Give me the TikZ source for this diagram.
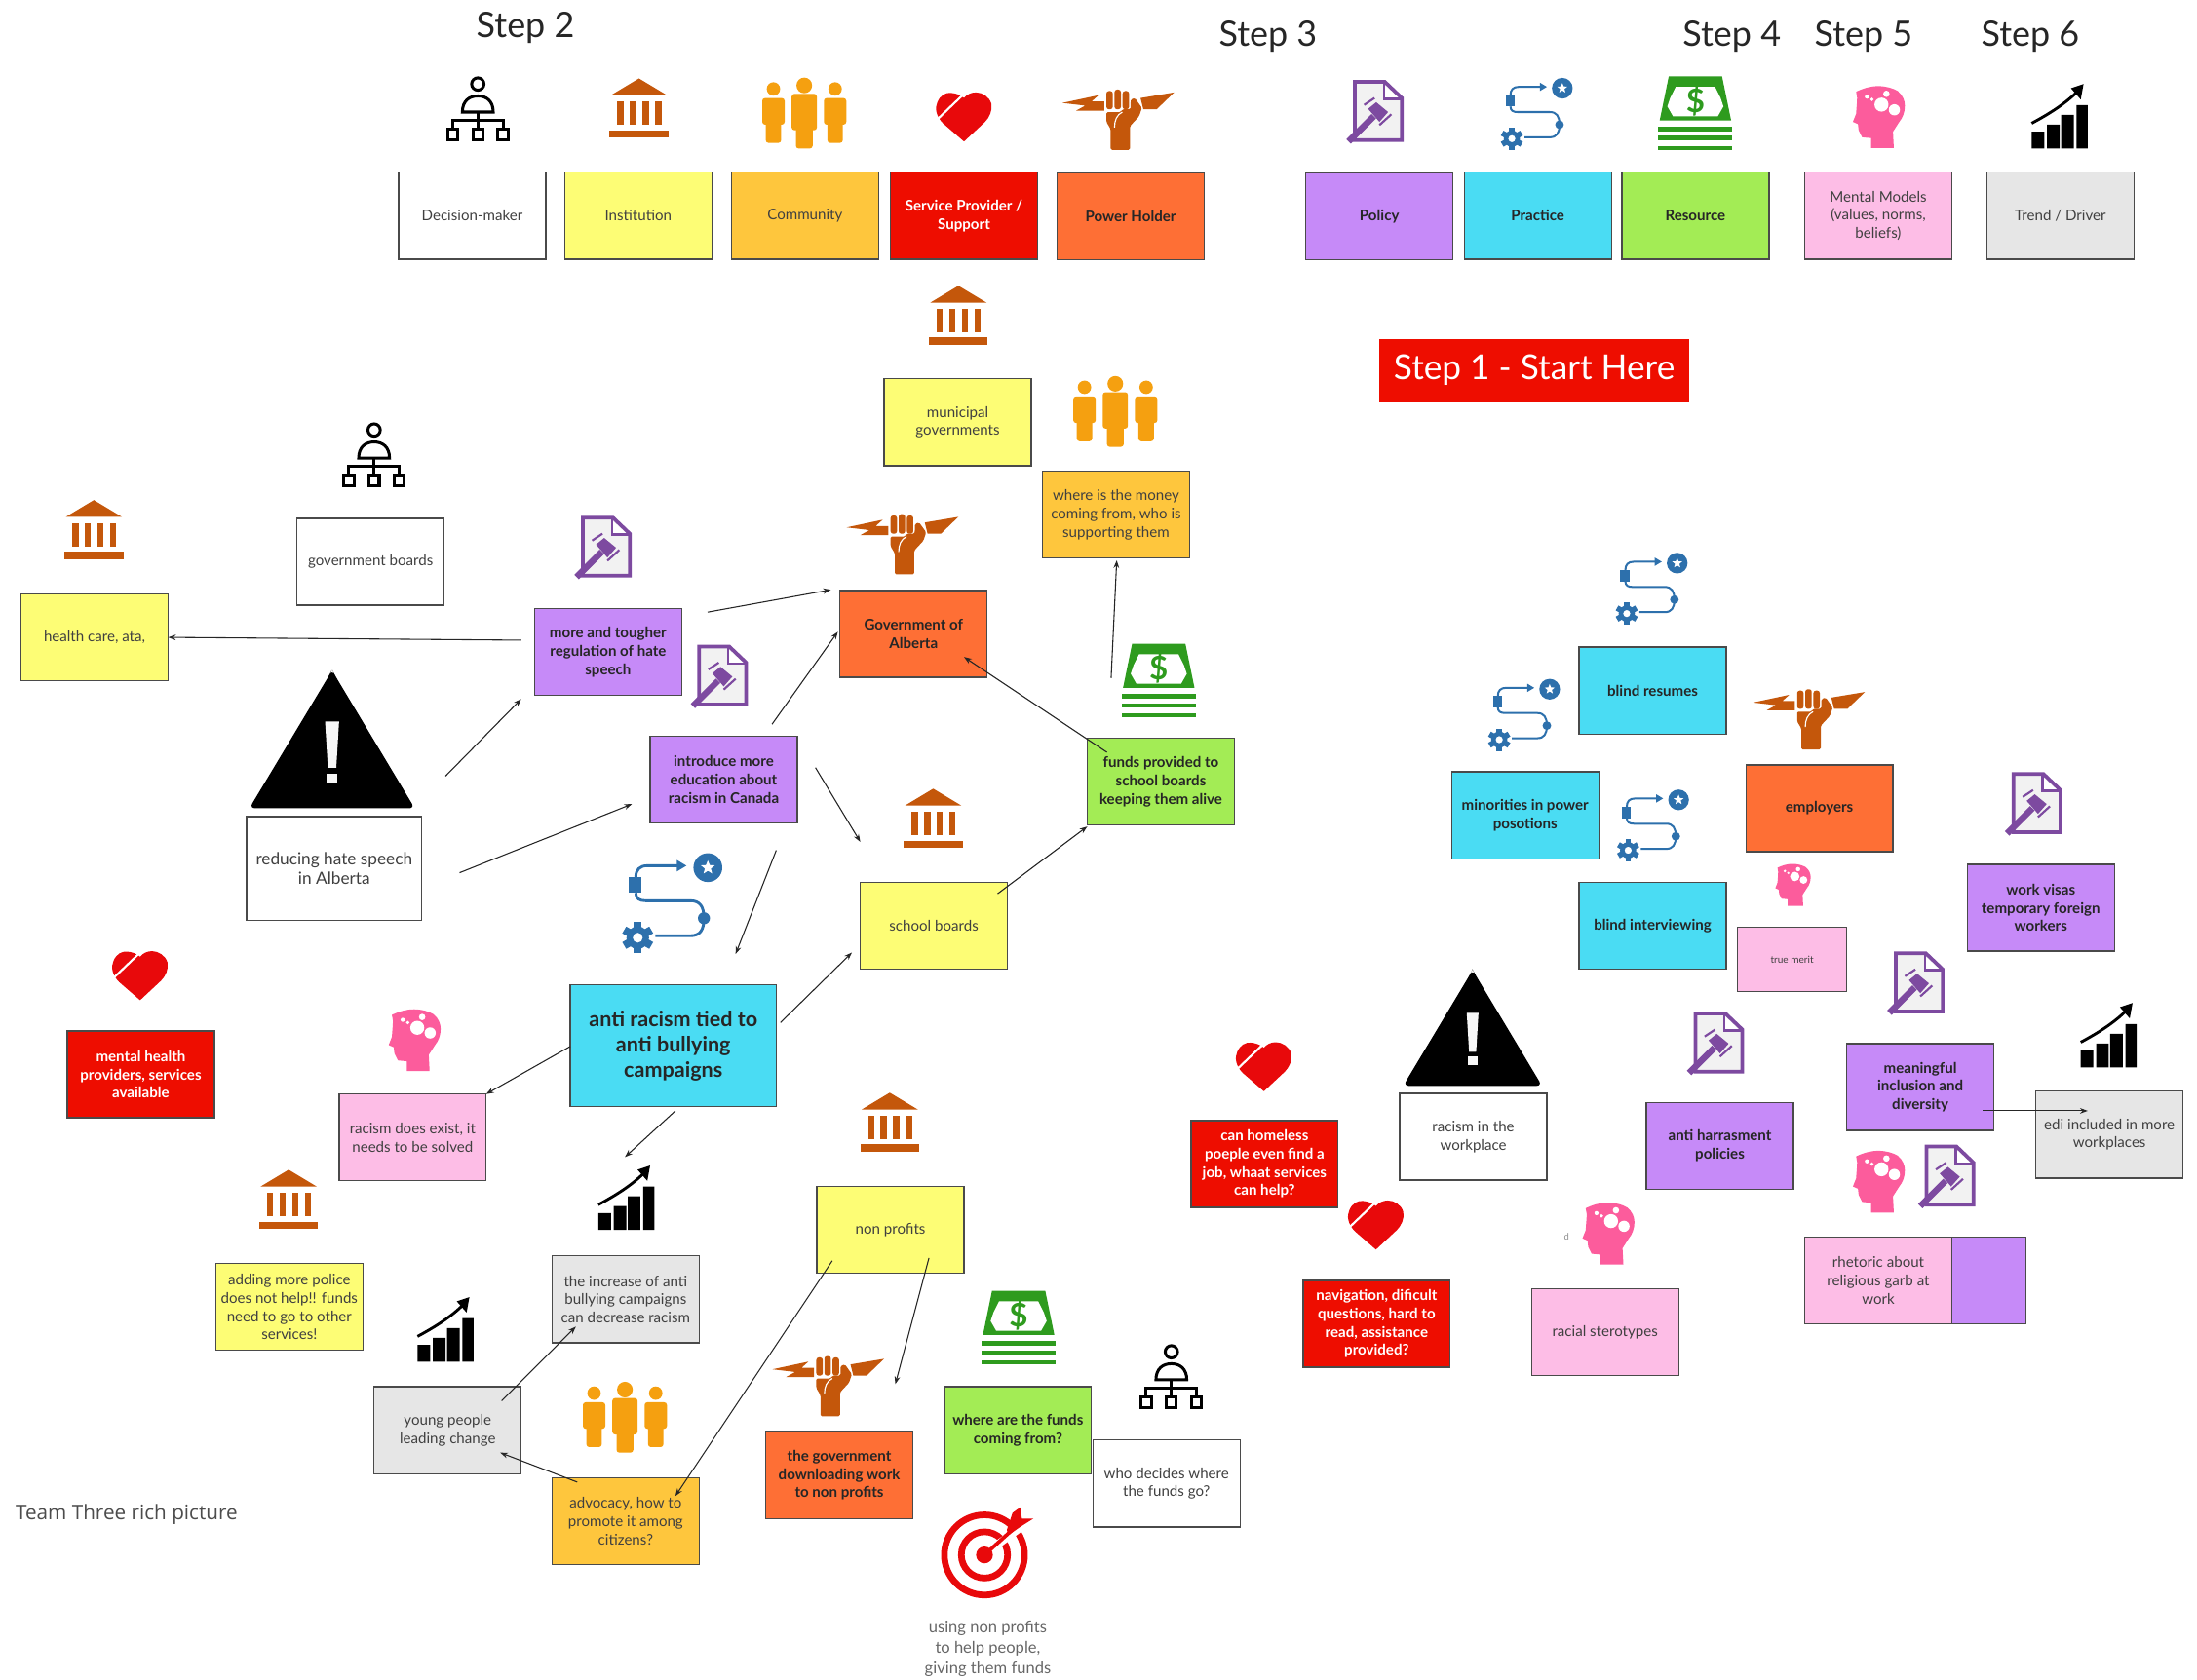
\documentclass[tikz,border=0pt]{standalone}
\usepackage{fontspec}
\setmainfont{Lato}
\newfontfamily\captionfont{Open Sans}
\usetikzlibrary{arrows.meta,shapes.geometric}
\definecolor{cPurple}{HTML}{C68AF8}
\definecolor{cCyan}{HTML}{4ADCF3}
\definecolor{cGreen}{HTML}{A3EC55}
\definecolor{cPink}{HTML}{FDBDE6}
\definecolor{cGray}{HTML}{E6E6E6}
\definecolor{cYellow}{HTML}{FDFD75}
\definecolor{cAmber}{HTML}{FEC63D}
\definecolor{cRed}{HTML}{EE0D00}
\definecolor{cOrange}{HTML}{FE6F35}
\definecolor{iBrown}{HTML}{C4570B}
\definecolor{iAmber}{HTML}{F5A010}
\definecolor{iPurple}{HTML}{7D4AA0}
\definecolor{iBlue}{HTML}{2D70AC}
\definecolor{iGreen}{HTML}{2E9B1E}
\definecolor{iPink}{HTML}{FC5C9C}
\definecolor{iRed}{HTML}{E8090B}
\definecolor{tGray}{HTML}{404040}
\definecolor{edge}{HTML}{4A4A4A}
\tikzset{
 x=1pt,y=-1pt,
 nbox/.style={draw=edge,line width=.9pt,minimum width=105pt,minimum height=62pt,inner sep=0pt,outer sep=0pt,align=center,font=\fontsize{10.5}{13}\selectfont,text=tGray},
 bboxtxt/.style={font=\fontsize{10.5}{13}\selectfont\bfseries,text=black!85},
 nwhite/.style={nbox,fill=white},
 nyellow/.style={nbox,fill=cYellow},
 namber/.style={nbox,fill=cAmber},
 nred/.style={nbox,fill=cRed,bboxtxt,text=white},
 norange/.style={nbox,fill=cOrange,bboxtxt},
 npurple/.style={nbox,fill=cPurple,bboxtxt},
 ncyan/.style={nbox,fill=cCyan,bboxtxt},
 ngreen/.style={nbox,fill=cGreen,bboxtxt},
 npink/.style={nbox,fill=cPink},
 ngray/.style={nbox,fill=cGray},
 steplabel/.style={font=\fontsize{25}{30}\selectfont,text=black!85,inner sep=0pt},
 arr/.style={-{Stealth[length=5.5pt,width=4pt]},line width=.75pt,draw=black!85},
 icondecision/.pic={
  \draw[black,line width=2.1pt,fill=white] (0,-18) ellipse (4.4 and 4.4);
  \draw[black,line width=2.1pt] (-11,2) .. controls (-11,-6) and (-6,-9.5) .. (0,-9.5) .. controls (6,-9.5) and (11,-6) .. (11,2) -- cycle;
  \draw[black,line width=2.1pt] (0,2) -- (0,14) (-18,14) -- (-18,8) -- (18,8) -- (18,14);
  \foreach \q in {-18,0,18}{\draw[black,line width=2.1pt] (\q-3.6,14) rectangle (\q+3.6,22);}
 },
 iconinst/.pic={
  \fill[iBrown] (0,-21) -- (20,-9) -- (-20,-9) -- cycle;
  \foreach \q in {-15.5,-6.5,2.5,11.5}{\fill[iBrown] (\q,-4.5) rectangle (\q+4.5,12);}
  \fill[iBrown] (-21,16) rectangle (21,21);
 },
 iconcomm/.pic={
  \fill[iAmber] (0,-20) circle (5.6);
  \fill[iAmber,rounded corners=2pt] (-9,-14) rectangle (9,12);
  \fill[iAmber,rounded corners=2pt] (-6,8) rectangle (6,25);
  \foreach \q in {-22,22}{
   \fill[iAmber] (\q,-17.5) circle (4.8);
   \fill[iAmber,rounded corners=2pt] (\q-8,-11) rectangle (\q+8,8);
   \fill[iAmber,rounded corners=2pt] (\q-5.5,5) rectangle (\q+5.5,21);
  }
 },
 iconheart/.pic={
  \fill[iRed] (0,18) -- (-15,5) .. controls (-20,0) and (-21,-6) .. (-19,-10) .. controls (-17,-15) and (-13,-17) .. (-9.5,-16.7) .. controls (-6,-16.5) and (-2,-15) .. (0,-13) .. controls (2,-15.5) and (5,-17) .. (8.5,-17) .. controls (13,-17) and (18,-14) .. (19.5,-9) .. controls (20.5,-4) and (18,1) .. (15,4) -- cycle;
  \draw[white,line width=1.5pt] (-.6,-15.4) -- (-18.4,1.6);
 },
 iconpower/.pic={
  \fill[iBrown] (-41.8,-6.5) -- (-16,-12) -- (-21,-7.5) -- (-12,-7.5) -- (-12,-1) -- (-32,-1) -- (-25.5,-4.6) -- cycle;
  \fill[iBrown] (38,-14) -- (14,-10) -- (16,-2) -- (25.5,-2) -- cycle;
  \fill[iBrown,rounded corners=1.8pt] (-10.4,-15) rectangle (-5.8,-2);
  \fill[iBrown,rounded corners=1.8pt] (-4.6,-16) rectangle (0,-2);
  \fill[iBrown,rounded corners=1.8pt] (1.2,-15) rectangle (5.8,-2);
  \fill[iBrown,rounded corners=1pt] (-10.4,0) -- (0,0) -- (1,-2) -- (6.8,-2) -- (7,-9) -- (10,-10) -- (15,-3) -- (13,3) -- (6.5,10) -- (6.5,27) -- (-7.4,27) -- (-7.4,12) -- (-10.4,7) -- cycle;
  \draw[white,line width=.8pt] (1,0) .. controls (-3,2) and (-4.6,6) .. (-4.6,11);
 },
 iconpolicy/.pic={
  \draw[iPurple,line width=2.6pt,fill=black!5,line join=miter] (-14,-21.5) -- (7.4,-21.5) -- (19.5,-10) -- (19.5,20) -- (-14,20) -- cycle;
  \fill[white] (7.4,-19) -- (7.4,-10) -- (17,-10) -- cycle;
  \draw[iPurple,line width=1.6pt] (6.8,-22) -- (6.8,-9.4) -- (19.5,-9.4);
  \draw[iPurple,line width=4.5pt] (-18.5,21) -- (-.5,3);
  \fill[iPurple] (-4.6,-2.3) -- (1.2,-7) -- (9.7,0) -- (3.5,7) -- cycle;
  \draw[iPurple,line width=1.5pt] (-7.4,-5.1) -- (0,-10) (3.5,9.3) -- (12,1.6);
 },
 iconpractice/.pic={
  \fill[iBlue] (21,-17) circle (7.4);
  \node[star,star points=5,star point ratio=2.3,fill=white,minimum size=7.5pt,inner sep=0pt,transform shape] at (21,-17) {};
  \fill[iBlue] (-19.5,-12) rectangle (-13,-4);
  \draw[iBlue] (-16,-12) .. controls (-16,-16) and (-14,-18) .. (-10,-18) -- (6,-18);
  \fill[iBlue] (10,-18) -- (5,-21) -- (5,-15) -- cycle;
  \draw[iBlue] (-16,-4) .. controls (-16,-1) and (-14,0) .. (-11,0) -- (12,0) .. controls (17,0) and (19,3) .. (19,9) .. controls (19,15) and (17,18) .. (12,18) -- (-6,18);
  \fill[iBlue] (19,9) circle (3.1);
  \foreach \q in {0,60,...,300}{\fill[iBlue,rotate around={\q:(-15,19)}] (-17,11) rectangle (-13,15);}
  \fill[iBlue,even odd rule] (-15,19) circle (5.8) (-15,19) circle (2.6);
 },
 iconmoney/.pic={
  \fill[iGreen] (-19,-25.5) -- (19,-25.5) -- (25.5,6) -- (-25.5,6) -- cycle;
  \fill[white] (-14,-18) -- (14,-18) -- (18,-10) -- (20,-4) -- (16,3) -- (-16,3) -- (-20,-4) -- (-18,-10) -- cycle;
  \node[text=iGreen,inner sep=0pt,font=\fontsize{23}{23}\selectfont\bfseries,transform shape] at (0,-8) {\$};
  \foreach \q in {10.5,17,24}{\fill[iGreen] (-26.5,\q) rectangle (26.5,\q+3.2);}
 },
 iconmind/.pic={
  \fill[iPink] (11.6,21.6) -- (-4.6,21.6) -- (-4.6,14.6) -- (-11,14) -- (-13.5,9) -- (-14,4.6) -- (-17.6,3) -- (-15.3,-2.8) .. controls (-15,-8) and (-14.6,-11) .. (-14.6,-14.4) -- (-15.3,-18.5) .. controls (-10,-21) and (-5,-22.5) .. (.5,-22.5) .. controls (6,-22.5) and (11,-21) .. (14.4,-19) .. controls (18,-16) and (19.5,-12) .. (19.5,-8.6) .. controls (19.5,-4) and (18,0) .. (15.5,3) -- (11,10) -- cycle;
  \fill[white] (2.8,-9.3) circle (5) (12,-5.6) circle (4) (6.3,-17) circle (2.3) (-4,-13) circle (1.3) (-7.6,-15) circle (1.5);
 },
 icontrend/.pic={
  \fill[black] (-20,10) rectangle (-11,22) (-9,5) rectangle (0,22) (1,-2) rectangle (10,22) (12,-9) rectangle (20,22);
  \draw[black,line width=2pt] (-20,4) .. controls (-7,-3) and (4,-10) .. (13,-19);
  \fill[black] (17,-24) -- (8,-21) -- (15,-13) -- cycle;
 },
 iconwarn/.pic={
  \fill[black,rounded corners=4pt] (-2,-46) -- (0,-50) -- (2,-46) -- (59,49) -- (-59,49) -- cycle;
  \fill[black!3] (-5,-13) -- (5,-13) -- (3,20) -- (-3,20) -- cycle;
  \fill[black!3] (-4,24) rectangle (4,31);
 },
 icontarget/.pic={
  \draw[iRed,line width=4.7pt] (0,0) circle (28.6);
  \draw[iRed,line width=4.7pt] (0,0) circle (16.5);
  \draw[white,line width=5.5pt] (6,-5) -- (36,-27);
  \fill[iRed] (0,0) circle (6);
  \draw[iRed,line width=2.6pt] (0,0) -- (20,-18);
  \fill[iRed] (16,-18) -- (20,-30) -- (25.5,-34) -- (26.7,-26) -- (35,-26) -- (25.5,-20) -- (17,-14) -- cycle;
 },
}
\begin{document}
\begin{tikzpicture}
\useasboundingbox (0,0) rectangle (1568,1199);
% step labels
\node[steplabel] (s2) at (375,20) {Step 2};
\node[steplabel] (s3) at (905,26) {Step 3};
\node[steplabel] (s4) at (1236,26) {Step 4};
\node[steplabel] (s5) at (1330,26) {Step 5};
\node[steplabel] (s6) at (1449,26) {Step 6};
\node[fill=cRed,minimum width=221pt,minimum height=45pt,inner sep=0pt,text=white,font=\fontsize{24.5}{30}\selectfont] (s1) at (1095,264.5) {Step 1 - Start Here};
% legend icons
\pic at (341,78) {icondecision};
\pic at (456,77) {iconinst};
\pic at (574,81) {iconcomm};
\pic at (688,83) {iconheart};
\pic at (800,80) {iconpower};
\pic at (981,80) {iconpolicy};
\pic[line width=1.4pt] at (1094,80) {iconpractice};
\pic at (1210,80) {iconmoney};
\pic at (1340,84) {iconmind};
\pic at (1470,84) {icontrend};
% legend boxes
\node[nwhite] (l1) at (337,154) {Decision-maker};
\node[nyellow] (l2) at (455.5,154) {Institution};
\node[namber] (l3) at (574.5,154) {Community};
\node[nred] (l4) at (688,154) {Service Provider /\\Support};
\node[norange] (l5) at (807,154.5) {Power Holder};
\node[npurple] (l6) at (984.5,154.5) {Policy};
\node[ncyan] (l7) at (1097.5,154) {Practice};
\node[ngreen] (l8) at (1210,154) {Resource};
\node[npink] (l9) at (1340.5,154) {Mental Models\\(values, norms,\\beliefs)};
\node[ngray] (l10) at (1470.5,154) {Trend / Driver};
% left cluster icons
\pic at (684,225) {iconinst};
\pic at (796,294) {iconcomm};
\pic at (646,383) {iconpower};
\pic at (267,325) {icondecision};
\pic at (67,378) {iconinst};
\pic at (430,391) {iconpolicy};
\pic at (513,483) {iconpolicy};
\pic at (827,485) {iconmoney};
\pic at (237,528) {iconwarn};
\pic at (666,584) {iconinst};
\pic[scale=1.39,line width=2pt] at (476,643) {iconpractice};
\pic at (100,696) {iconheart};
\pic at (295,743) {iconmind};
\pic at (635,801) {iconinst};
\pic at (206,856) {iconinst};
\pic at (447,856) {icontrend};
\pic at (318,950) {icontrend};
\pic at (727,947) {iconmoney};
\pic at (593,984) {iconpower};
\pic at (836,983) {icondecision};
\pic at (446,1012) {iconcomm};
\pic at (702.6,1110) {icontarget};
% right cluster icons
\pic[line width=1.4pt] at (1176,419) {iconpractice};
\pic[line width=1.4pt] at (1085,509) {iconpractice};
\pic at (1293,508) {iconpower};
\pic[line width=1.4pt] at (1177,588) {iconpractice};
\pic at (1451,574) {iconpolicy};
\pic[scale=.68] at (1279,632) {iconmind};
\pic at (1367,702) {iconpolicy};
\pic at (1224,745) {iconpolicy};
\pic at (1505,740) {icontrend};
\pic[scale=.84] at (1051,734) {iconwarn};
\pic at (902,761) {iconheart};
\pic at (982,874) {iconheart};
\pic at (1147,881) {iconmind};
\pic at (1340,844) {iconmind};
\pic at (1389,840) {iconpolicy};
% left cluster boxes
\node[nyellow] (muni) at (683.5,301.5) {municipal\\governments};
\node[namber] (money) at (796.5,367.5) {where is the money\\coming from, who is\\supporting them};
\node[norange] (gov) at (652,452.5) {Government of\\Alberta};
\node[nwhite] (gboards) at (264.5,401) {government boards};
\node[nyellow] (health) at (67.5,455) {health care, ata,};
\node[npurple] (more) at (434,465.5) {more and tougher\\regulation of hate\\speech};
\node[npurple] (intro) at (516.5,556.5) {introduce more\\education about\\racism in Canada};
\node[ngreen] (funds) at (828.5,558) {funds provided to\\school boards\\keeping them alive};
\node[nyellow] (school) at (666.5,661) {school boards};
\node[nwhite,minimum width=125pt,minimum height=74pt,font=\fontsize{12}{13.5}\selectfont] (reduce) at (238.5,620) {reducing hate speech\\in Alberta};
\node[ncyan,minimum width=147pt,minimum height=87pt,font=\fontsize{15}{18}\selectfont\bfseries] (anti) at (480.5,746.5) {anti racism tied to\\anti bullying\\campaigns};
\node[nred] (mental) at (100.5,767) {mental health\\providers, services\\available};
\node[npink] (exist) at (294.5,812) {racism does exist, it\\needs to be solved};
\node[nyellow] (police) at (206.5,933) {adding more police\\does not help!! funds\\need to go to other\\services!};
\node[ngray] (increase) at (446.5,927.5) {the increase of anti\\bullying campaigns\\can decrease racism};
\node[nyellow] (nonp) at (635.5,878) {non profits};
\node[ngray] (young) at (319.5,1021) {young people\\leading change};
\node[namber] (advoc) at (446.5,1086) {advocacy, how to\\promote it among\\citizens?};
\node[norange] (down) at (599,1053) {the government\\downloading work\\to non profits};
\node[ngreen] (where) at (726.5,1021) {where are the funds\\coming from?};
\node[nwhite] (who) at (832.5,1059) {who decides where\\the funds go?};
\node[inner sep=0pt,align=center,text=black!60,font=\fontsize{11.5}{14.5}\selectfont] (using) at (705,1177) {using non profits\\to help people,\\giving them funds};
\node[anchor=west,inner sep=0pt,text=black!70,font=\captionfont\fontsize{14.4}{17}\selectfont] (team) at (11,1081) {Team Three rich picture};
% right cluster boxes
\node[ncyan] (resumes) at (1179.5,493) {blind resumes};
\node[ncyan] (minor) at (1088.5,582) {minorities in power\\posotions};
\node[norange] (employ) at (1298.5,577) {employers};
\node[ncyan] (interv) at (1179.5,661) {blind interviewing};
\node[npink,minimum width=78pt,minimum height=46pt,font=\fontsize{7}{9}\selectfont] (merit) at (1279,685) {true merit};
\node[npurple] (visas) at (1456.5,648) {work visas\\temporary foreign\\workers};
\node[npurple] (mean) at (1370.5,776) {meaningful\\inclusion and\\diversity};
\node[ngray] (edi) at (1505.5,810) {edi included in more\\workplaces};
\node[npurple] (harr) at (1227.5,818) {anti harrasment\\policies};
\node[nwhite] (work) at (1051.5,811.5) {racism in the\\workplace};
\node[nred] (home) at (902.5,831) {can homeless\\poeple even find a\\job, whaat services\\can help?};
\node[nred] (nav) at (982.5,945) {navigation, dificult\\questions, hard to\\read, assistance\\provided?};
\node[npink] (stereo) at (1145.5,951) {racial sterotypes};
\node[npurple] (rback) at (1393.5,914) {};
\node[npink] (rhet) at (1340.5,914) {rhetoric about\\religious garb at\\work};
\node[inner sep=0pt,text=black!45,font=\fontsize{6.5}{8}\selectfont] (dmark) at (1118,883) {d};
% connectors
\draw[arr] ([shift={(-62,-8.5)}]more.center) -- ([shift={(52.5,0)}]health.center);
\draw[arr] ([shift={(71,-28.5)}]more.center) -- ([shift={(-59,-31.5)}]gov.center);
\draw[arr] ([shift={(34.5,-39.5)}]intro.center) -- ([shift={(-54,-1.5)}]gov.center);
\draw[arr] ([shift={(65.5,-8.5)}]intro.center) -- ([shift={(-52.5,-60)}]school.center);
\draw[arr] ([shift={(37.5,50.5)}]intro.center) -- ([shift={(44.5,-65.5)}]anti.center);
\draw[arr] ([shift={(79.5,-66)}]reduce.center) -- ([shift={(-62,33.5)}]more.center);
\draw[arr] ([shift={(89.5,3)}]reduce.center) -- ([shift={(-65.5,17.5)}]intro.center);
\draw[arr] ([shift={(76.5,-16.5)}]anti.center) -- ([shift={(-58.5,19)}]school.center);
\draw[arr] ([shift={(-73.5,.5)}]anti.center) -- ([shift={(52.5,-31)}]exist.center);
\draw[arr] ([shift={(1.5,46.5)}]anti.center) -- ([shift={(-.5,-101.5)}]increase.center);
\draw[arr] ([shift={(45.5,-23)}]school.center) -- ([shift={(-52.5,32)}]funds.center);
\draw[arr] ([shift={(-38.5,-21)}]funds.center) -- ([shift={(36,16.5)}]gov.center);
\draw[arr] ([shift={(-35.5,-74)}]funds.center) -- ([shift={(.5,32.5)}]money.center);
\draw[arr] ([shift={(-41.5,22)}]nonp.center) -- ([shift={(35.5,-18)}]advoc.center);
\draw[arr] ([shift={(27.5,20)}]nonp.center) -- ([shift={(40,-65)}]down.center);
\draw[arr] ([shift={(-34.5,-28)}]advoc.center) -- ([shift={(37.5,16)}]young.center);
\draw[arr] ([shift={(38.5,-21)}]young.center) -- ([shift={(-35.5,19.5)}]increase.center);
\draw[arr] ([shift={(44.5,17)}]mean.center) -- ([shift={(-15.5,-17)}]edi.center);
\end{tikzpicture}
\end{document}
